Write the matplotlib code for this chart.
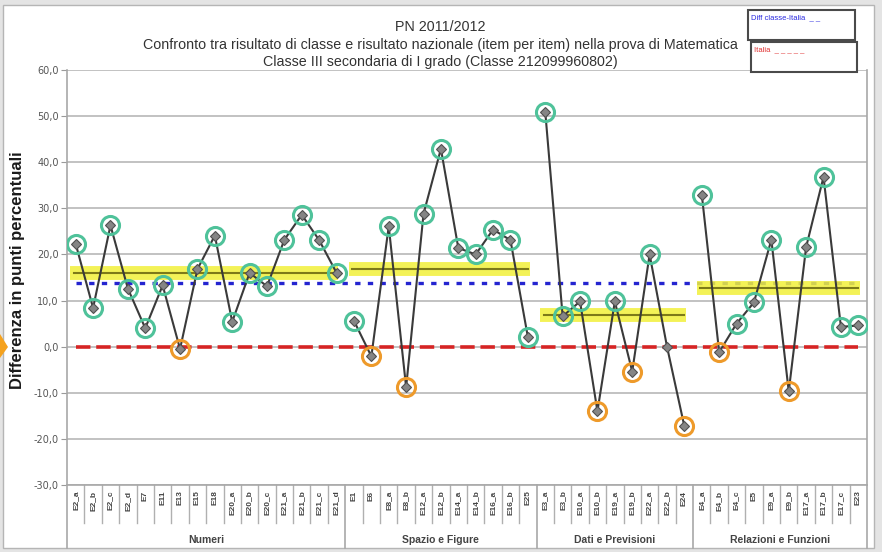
import matplotlib
matplotlib.use("Agg")
from matplotlib import pyplot as plt
from matplotlib.patches import Rectangle, Polygon
from matplotlib.ticker import FuncFormatter
import numpy as np

# --- data ---
groups = ["Numeri", "Spazio e Figure", "Dati e Previsioni", "Relazioni e Funzioni"]

items_numeri = ["E2_a", "E2_b", "E2_c", "E2_d", "E7", "E11", "E13", "E15", "E18",
                "E20_a", "E20_b", "E20_c", "E21_a", "E21_b", "E21_c", "E21_d"]
items_spazio = ["E1", "E6", "E8_a", "E8_b", "E12_a", "E12_b", "E14_a", "E14_b",
                "E16_a", "E16_b", "E25"]
items_dati = ["E3_a", "E3_b", "E10_a", "E10_b", "E19_a", "E19_b", "E22_a", "E22_b", "E24"]
items_relazioni = ["E4_a", "E4_b", "E4_c", "E5", "E9_a", "E9_b", "E17_a", "E17_b",
                   "E17_c", "E23"]

vals_numeri = [22.3, 8.4, 26.3, 12.6, 4.0, 13.3, -0.5, 16.8, 24.1,
               5.4, 16.0, 13.1, 23.2, 28.6, 23.1, 16.0]
vals_spazio = [5.6, -2.1, 26.1, -8.8, 28.8, 42.9, 21.4, 20.0, 25.4, 23.1, 2.1]
vals_dati = [50.9, 6.6, 9.8, -14.0, 9.8, -5.4, 20.0, 0.0, -17.3]
vals_relazioni = [33.0, -1.2, 5.0, 9.6, 23.2, -9.7, 21.6, 36.8, 4.3, 4.6]

group_means = [16.0, 16.8, 6.8, 12.7]
diff_classe_italia = 13.9
italia = 0.0

all_items = [items_numeri, items_spazio, items_dati, items_relazioni]
all_vals = [vals_numeri, vals_spazio, vals_dati, vals_relazioni]

W, H = 882, 552
fig = plt.figure(figsize=(W / 100, H / 100), dpi=100, facecolor="#e4e4e4")

def fx(px):
    return px / W

def fy(py):
    return 1 - py / H

# chart area
fig.patches.append(Rectangle((fx(3), fy(548)), fx(874) - fx(3), fy(5) - fy(548),
                             transform=fig.transFigure, facecolor="white",
                             edgecolor="#b5b5b5", lw=1, zorder=-2))
# orange arrow at the left edge
fig.patches.append(Polygon([(fx(0), fy(334)), (fx(8), fy(347)), (fx(0), fy(358))],
                           closed=True, transform=fig.transFigure,
                           facecolor="#f5a21e", edgecolor="none", zorder=-1))

ax = fig.add_axes([fx(67), fy(485), fx(867) - fx(67), fy(70) - fy(485)])
ax.set_facecolor("none")

n_total = sum(len(it) for it in all_items)
ax.set_xlim(-0.5, n_total - 0.5)
ax.set_ylim(-30, 60)

ax.set_yticks(np.arange(-30, 61, 10))
ax.yaxis.set_major_formatter(FuncFormatter(lambda v, p: f"{v:.1f}".replace(".", ",")))
ax.tick_params(axis="y", length=4, color="#9a9a9a", labelsize=7, labelcolor="#555555", pad=2)
ax.grid(axis="y", color="#b8b8b8", lw=1.2, zorder=1)
ax.set_axisbelow(True)
ax.spines["top"].set_visible(False)
for s in ["left", "bottom", "right"]:
    ax.spines[s].set_color("#a8a8a8")
    ax.spines[s].set_linewidth(1.2)

labels = [l for it in all_items for l in it]
ax.set_xticks(np.arange(n_total))
ax.set_xticklabels(labels, rotation=90, fontsize=6, color="#444444", fontweight="bold",
                   family="Liberation Sans")
ax.tick_params(axis="x", length=0, pad=4)

# reference lines
ax.plot([0, n_total - 1], [italia, italia], color="#d62424", lw=2.6,
        dashes=(4, 1.6), zorder=2)
ax.plot([0, n_total - 1], [diff_classe_italia] * 2, color="#2424d0", lw=2.4,
        dashes=(1.6, 2.2), zorder=2)

trans = ax.get_xaxis_transform()
start = 0
for g, items, vals, m in zip(groups, all_items, all_vals, group_means):
    x = np.arange(start, start + len(items))
    # group mean band
    ax.plot([x[0] - 0.3, x[-1] + 0.1], [m, m], color="#f2f03a", lw=10, alpha=0.85,
            solid_capstyle="butt", zorder=3)
    ax.plot([x[0] - 0.1, x[-1]], [m, m], color="#7d7a18", lw=1.5, zorder=3)
    # item line
    ax.plot(x, vals, color="#3a3a3a", lw=1.5, zorder=4)
    ax.plot(x, vals, ls="none", marker="D", ms=5.5, mfc="#858585", mec="#505050",
            mew=0.8, zorder=5)
    v = np.array(vals)
    pos = v > 0.1
    neg = v < -0.1
    ax.plot(x[pos], v[pos], ls="none", marker="o", ms=13, mfc="none",
            mec="#4fc29a", mew=2.2, zorder=6)
    ax.plot(x[neg], v[neg], ls="none", marker="o", ms=13, mfc="none",
            mec="#ee9a2a", mew=2.2, zorder=6)
    # category dividers in the label area
    for b in np.arange(start, start + len(items))[1:] - 0.5:
        ax.plot([b, b], [0, -0.0916], transform=trans, color="#b0b0b0", lw=1,
                clip_on=False)
    ax.text((x[0] + x[-1]) / 2, -0.1325, g, transform=trans, ha="center", va="center",
            fontsize=7.5, fontweight="bold", color="#444444", family="Liberation Sans")
    start += len(items)

# group dividers
b = -0.5
for items in [[]] + all_items:
    b += len(items)
    ax.plot([b, b], [0, -0.1518], transform=trans, color="#a8a8a8", lw=1.2, clip_on=False)

# titles
tfam = "Liberation Sans"
for ty, txt in [(27, "PN 2011/2012"),
                (45, "Confronto tra risultato di classe e risultato nazionale "
                     "(item per item) nella prova di Matematica"),
                (62, "Classe III secondaria di I grado (Classe 212099960802)")]:
    fig.text(fx(440), fy(ty), txt, ha="center", va="center", fontsize=10.3,
             color="#333333", family=tfam)

fig.text(fx(18), fy(270), "Differenza in punti percentuali", rotation=90, ha="center",
         va="center", fontsize=12, fontweight="bold", color="#1a1a1a",
         family="Liberation Sans")

# legend boxes
fig.patches.append(Rectangle((fx(748), fy(40)), fx(855) - fx(748), fy(10) - fy(40),
                             transform=fig.transFigure, facecolor="white",
                             edgecolor="#4a4a4a", lw=1.5, zorder=3))
fig.patches.append(Rectangle((fx(751), fy(72)), fx(857) - fx(751), fy(42) - fy(72),
                             transform=fig.transFigure, facecolor="white",
                             edgecolor="#4a4a4a", lw=1.5, zorder=3))
fig.text(fx(751), fy(18), "Diff classe-Italia  _ _", ha="left", va="center",
         fontsize=5.5, color="#2a2ae0", family=tfam, zorder=4)
fig.text(fx(754), fy(50), "Italia  _ _ _ _ _", ha="left", va="center",
         fontsize=5.5, color="#e03030", family=tfam, zorder=4)

fig.savefig("out.png", dpi=100, facecolor=fig.get_facecolor())
